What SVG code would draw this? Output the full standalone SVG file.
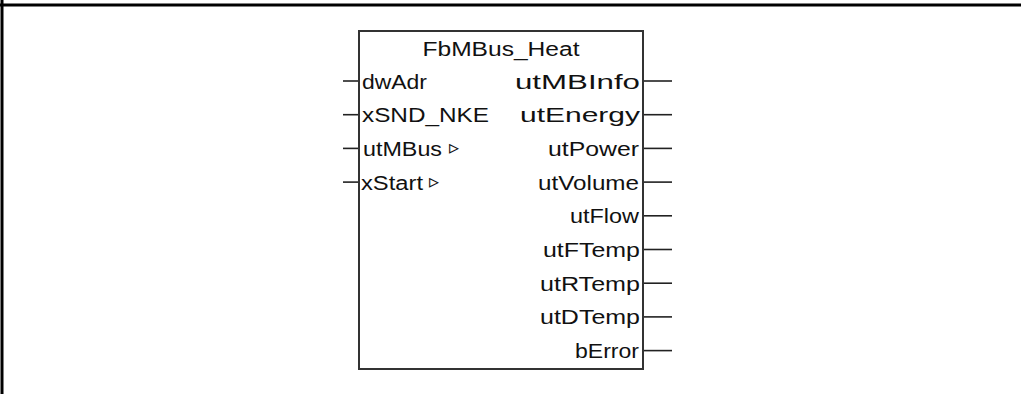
<svg xmlns="http://www.w3.org/2000/svg" width="1021" height="394" viewBox="0 0 1021 394">
<style>
.frame{stroke:#000;stroke-width:3;fill:none}
.box{fill:#fff;stroke:#333;stroke-width:2}
.pin{stroke:#222;stroke-width:1.6}
text{font-family:"Liberation Sans",Arial,sans-serif;font-size:20px;fill:#111}
.r{text-anchor:end}
.t{text-anchor:middle}
</style>
<rect width="1021" height="394" fill="#fff"/>
<line class="frame" x1="0" y1="5" x2="1021" y2="5"/>
<line class="frame" x1="2" y1="0" x2="2" y2="394"/>
<g id="connectors">
<line class="pin" x1="343" y1="81" x2="359" y2="81"/>
<line class="pin" x1="343" y1="114.7" x2="359" y2="114.7"/>
<line class="pin" x1="343" y1="148.4" x2="359" y2="148.4"/>
<line class="pin" x1="343" y1="182.1" x2="359" y2="182.1"/>
<line class="pin" x1="643" y1="81" x2="672" y2="81"/>
<line class="pin" x1="643" y1="114.7" x2="672" y2="114.7"/>
<line class="pin" x1="643" y1="148.4" x2="672" y2="148.4"/>
<line class="pin" x1="643" y1="182.1" x2="672" y2="182.1"/>
<line class="pin" x1="643" y1="215.8" x2="672" y2="215.8"/>
<line class="pin" x1="643" y1="249.5" x2="672" y2="249.5"/>
<line class="pin" x1="643" y1="283.2" x2="672" y2="283.2"/>
<line class="pin" x1="643" y1="316.9" x2="672" y2="316.9"/>
<line class="pin" x1="643" y1="350.6" x2="672" y2="350.6"/>
</g>
<g id="FbMBus_Heat">
<rect class="box" x="359" y="31" width="284" height="338"/>
<text class="t" x="501" y="56" textLength="157" lengthAdjust="spacingAndGlyphs">FbMBus_Heat</text>
<text x="362" y="88.5" textLength="65" lengthAdjust="spacingAndGlyphs">dwAdr</text>
<text x="362" y="122.2" textLength="127" lengthAdjust="spacingAndGlyphs">xSND_NKE</text>
<text x="363" y="155.9" textLength="79" lengthAdjust="spacingAndGlyphs">utMBus</text>
<text x="449" y="154.4" font-size="14">▹</text>
<text x="361" y="189.6" textLength="62" lengthAdjust="spacingAndGlyphs">xStart</text>
<text x="429" y="188.1" font-size="14">▹</text>
<text class="r" x="640" y="88.5" textLength="125" lengthAdjust="spacingAndGlyphs">utMBInfo</text>
<text class="r" x="640" y="122.2" textLength="120" lengthAdjust="spacingAndGlyphs">utEnergy</text>
<text class="r" x="639" y="155.9" textLength="91" lengthAdjust="spacingAndGlyphs">utPower</text>
<text class="r" x="639" y="189.6" textLength="101" lengthAdjust="spacingAndGlyphs">utVolume</text>
<text class="r" x="639" y="223.3" textLength="69" lengthAdjust="spacingAndGlyphs">utFlow</text>
<text class="r" x="640" y="257" textLength="97" lengthAdjust="spacingAndGlyphs">utFTemp</text>
<text class="r" x="640" y="290.7" textLength="100" lengthAdjust="spacingAndGlyphs">utRTemp</text>
<text class="r" x="640" y="324.4" textLength="100" lengthAdjust="spacingAndGlyphs">utDTemp</text>
<text class="r" x="639" y="358.1" textLength="64" lengthAdjust="spacingAndGlyphs">bError</text>
</g>
</svg>
